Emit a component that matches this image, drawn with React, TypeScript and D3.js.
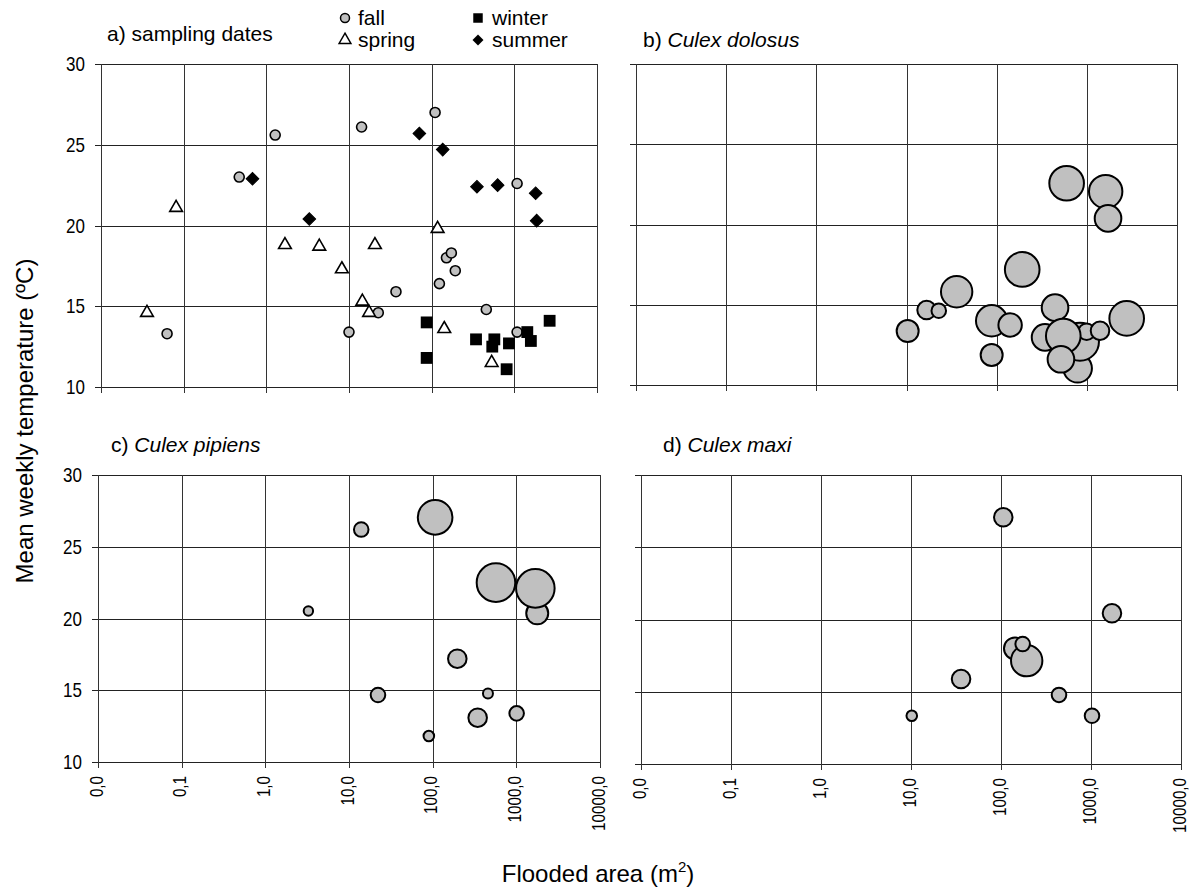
import React from "react";
import * as d3 from "d3";

// ---------- data ----------
const X_TICKS = [0.01, 0.1, 1, 10, 100, 1000, 10000];
const X_TICK_LABELS = ["0,0", "0,1", "1,0", "10,0", "100,0", "1000,0", "10000,0"];
const Y_TICKS = [10, 15, 20, 25, 30];

// a) sampling dates
const fallArea = [0.063, 0.47, 1.28, 10, 14.2, 110, 1080, 151, 173, 193, 124, 37, 22.6, 458, 1080];
const fallTemp = [13.3, 23.0, 25.6, 13.4, 26.1, 27.0, 22.6, 18.0, 18.3, 17.2, 16.4, 15.9, 14.6, 14.8, 13.4];
const springArea = [0.036, 0.081, 1.68, 4.37, 8.2, 20.6, 14.5, 17.5, 118, 142, 532];
const springTemp = [14.6, 21.1, 18.8, 18.7, 17.3, 18.8, 15.3, 14.6, 19.8, 13.6, 11.5];
const summerArea = [0.68, 3.31, 71, 136, 353, 628, 1811, 1862];
const summerTemp = [22.9, 20.4, 25.7, 24.7, 22.4, 22.5, 22.0, 20.3];
const winterArea = [87, 87, 344, 573, 541, 861, 1435, 1585, 2673, 807];
const winterTemp = [14.0, 11.8, 12.95, 12.95, 12.5, 12.7, 13.4, 12.85, 14.1, 11.1];

// b) Culex dolosus (abundance -> bubble area)
const dolosusArea = [597, 1618, 1718, 192, 36, 16.7, 22.8, 10.3, 88, 141, 88, 444, 791, 839, 995, 1400, 344, 548, 516, 2767];
const dolosusTemp = [22.57, 22.05, 20.38, 17.2, 15.81, 14.67, 14.63, 13.36, 14.0, 13.74, 11.87, 14.82, 11.04, 12.7, 13.32, 13.38, 12.97, 13.05, 11.6, 14.15];
const dolosusAbund = [300, 279, 177, 300, 246, 86, 53, 121, 246, 137, 121, 177, 204, 361, 69, 86, 177, 300, 177, 300];

// c) Culex pipiens
const pipiensArea = [14.0, 3.27, 22.2, 107, 571, 1778, 1687, 197, 458, 345, 1009, 90];
const pipiensTemp = [26.2, 20.52, 14.67, 27.05, 22.5, 20.36, 22.1, 17.2, 14.78, 13.09, 13.39, 11.81];
const pipiensAbund = [53, 22, 53, 300, 372, 121, 372, 86, 25, 86, 53, 28];

// d) Culex maxi
const maxiArea = [106, 1710, 143, 193, 174, 36, 441, 10.2, 1026];
const maxiTemp = [27.07, 20.43, 18.0, 17.15, 18.3, 15.88, 14.78, 13.34, 13.34];
const maxiAbund = [86, 86, 121, 246, 53, 86, 53, 28, 53];

// ---------- layout ----------
const W = 1190;
const H = 890;
const FONT = "'Liberation Sans', Arial, Helvetica, sans-serif";

const panels = [
  { key: "a", x0: 101, x1: 597, y0: 64, y1: 387, yLabels: true, xLabels: false },
  { key: "b", x0: 636, x1: 1177, y0: 64, y1: 385, yLabels: false, xLabels: false },
  { key: "c", x0: 98, x1: 600, y0: 475, y1: 762, yLabels: true, xLabels: true },
  { key: "d", x0: 641, x1: 1181, y0: 475, y1: 764, yLabels: false, xLabels: true },
];

const rScale = d3.scaleSqrt().domain([0, 400]).range([0, 20]);

function zip(xs: number[], ys: number[], zs?: number[]) {
  return xs.map((x, i) => ({ x, y: ys[i], z: zs ? zs[i] : 0 }));
}

function Frame({ p }: { p: any }) {
  const x = d3.scaleLog().domain([0.01, 10000]).range([p.x0, p.x1]);
  const y = d3.scaleLinear().domain([10, 30]).range([p.y1, p.y0]);
  const r = (v: number) => Math.round(v) + 0.5;
  return (
    <g>
      {Y_TICKS.map((t) => (
        <line key={"hy" + t} x1={p.x0 - 6} x2={p.x1} y1={r(y(t))} y2={r(y(t))} stroke="#222" strokeWidth={1} />
      ))}
      {X_TICKS.map((t) => (
        <line key={"vx" + t} x1={r(x(t))} x2={r(x(t))} y1={p.y0} y2={p.y1 + 6} stroke="#333" strokeWidth={1} />
      ))}
      {p.yLabels &&
        Y_TICKS.map((t) => (
          <text
            key={"ly" + t}
            transform={`translate(${p.x0 - 16},${y(t)}) scale(0.85,1)`}
            textAnchor="end"
            dominantBaseline="central"
            fontSize={20}
            fontFamily={FONT}
            fill="#000"
          >
            {t}
          </text>
        ))}
      {p.xLabels &&
        X_TICKS.map((t, i) => (
          <text
            key={"lx" + t}
            transform={`translate(${x(t) - 2},${p.y1 + 14}) rotate(-90) scale(0.8,1)`}
            textAnchor="end"
            dominantBaseline="central"
            fontSize={19}
            fontFamily={FONT}
            fill="#000"
          >
            {X_TICK_LABELS[i]}
          </text>
        ))}
    </g>
  );
}

function Bubbles({ p, pts }: { p: any; pts: { x: number; y: number; z: number }[] }) {
  const x = d3.scaleLog().domain([0.01, 10000]).range([p.x0, p.x1]);
  const y = d3.scaleLinear().domain([10, 30]).range([p.y1, p.y0]);
  return (
    <g>
      {pts.map((d, i) => (
        <circle key={i} cx={x(d.x)} cy={y(d.y)} r={rScale(d.z)} fill="#c0c0c0" stroke="#000" strokeWidth={2} />
      ))}
    </g>
  );
}

function SeasonPanel({ p }: { p: any }) {
  const x = d3.scaleLog().domain([0.01, 10000]).range([p.x0, p.x1]);
  const y = d3.scaleLinear().domain([10, 30]).range([p.y1, p.y0]);
  const tri = d3.symbol().type(d3.symbolTriangle).size(70)() as string;
  const sq = d3.symbol().type(d3.symbolSquare).size(140)() as string;
  const dia = d3.symbol().type(d3.symbolSquare).size(80)() as string;
  return (
    <g>
      {zip(fallArea, fallTemp).map((d, i) => (
        <circle key={"f" + i} cx={x(d.x)} cy={y(d.y)} r={5} fill="#c0c0c0" stroke="#000" strokeWidth={1.6} />
      ))}
      {zip(springArea, springTemp).map((d, i) => (
        <path key={"s" + i} d={tri} transform={`translate(${x(d.x)},${y(d.y)})`} fill="#fff" stroke="#000" strokeWidth={1.6} />
      ))}
      {zip(summerArea, summerTemp).map((d, i) => (
        <path key={"u" + i} d={dia} transform={`translate(${x(d.x)},${y(d.y)}) rotate(45)`} fill="#000" stroke="#000" strokeWidth={1} />
      ))}
      {zip(winterArea, winterTemp).map((d, i) => (
        <path key={"w" + i} d={sq} transform={`translate(${x(d.x)},${y(d.y)})`} fill="#000" />
      ))}
    </g>
  );
}

function Legend() {
  const tri = d3.symbol().type(d3.symbolTriangle).size(60)() as string;
  const sq = d3.symbol().type(d3.symbolSquare).size(90)() as string;
  const dia = d3.symbol().type(d3.symbolSquare).size(60)() as string;
  const fs = 21;
  return (
    <g fontFamily={FONT} fontSize={fs} fill="#000">
      <circle cx={345} cy={18} r={4.5} fill="#c0c0c0" stroke="#000" strokeWidth={1.5} />
      <text x={358} y={25}>fall</text>
      <path d={tri} transform="translate(345,40)" fill="#fff" stroke="#000" strokeWidth={1.5} />
      <text x={358} y={47}>spring</text>
      <path d={sq} transform="translate(478,18)" fill="#000" />
      <text x={492} y={25}>winter</text>
      <path d={dia} transform="translate(478,40) rotate(45)" fill="#000" />
      <text x={492} y={47}>summer</text>
    </g>
  );
}

export default function App() {
  const [pa, pb, pc, pd] = panels;
  return (
    <svg
      width={W}
      height={H}
      viewBox={`0 0 ${W} ${H}`}
      style={{ position: "absolute", left: 0, top: 0, background: "#fff" }}
    >
      <rect width={W} height={H} fill="#fff" />
      {panels.map((p) => (
        <Frame key={p.key} p={p} />
      ))}
      <SeasonPanel p={pa} />
      <Bubbles p={pb} pts={zip(dolosusArea, dolosusTemp, dolosusAbund)} />
      <Bubbles p={pc} pts={zip(pipiensArea, pipiensTemp, pipiensAbund)} />
      <Bubbles p={pd} pts={zip(maxiArea, maxiTemp, maxiAbund)} />

      <g fontFamily={FONT} fontSize={21} fill="#000">
        <text x={107} y={41}>a) sampling dates</text>
        <text x={643} y={47}>
          b) <tspan fontStyle="italic">Culex dolosus</tspan>
        </text>
        <text x={111} y={452}>
          c) <tspan fontStyle="italic">Culex pipiens</tspan>
        </text>
        <text x={663} y={452}>
          d) <tspan fontStyle="italic">Culex maxi</tspan>
        </text>
      </g>
      <Legend />

      <text
        transform="translate(33,421) rotate(-90)"
        textAnchor="middle"
        fontFamily={FONT}
        fontSize={24}
        fill="#000"
      >
        Mean weekly temperature (ºC)
      </text>
      <text x={598} y={882} textAnchor="middle" fontFamily={FONT} fontSize={24} fill="#000">
        Flooded area (m
        <tspan fontSize={15} dy={-10}>2</tspan>
        <tspan dy={10}>)</tspan>
      </text>
    </svg>
  );
}
